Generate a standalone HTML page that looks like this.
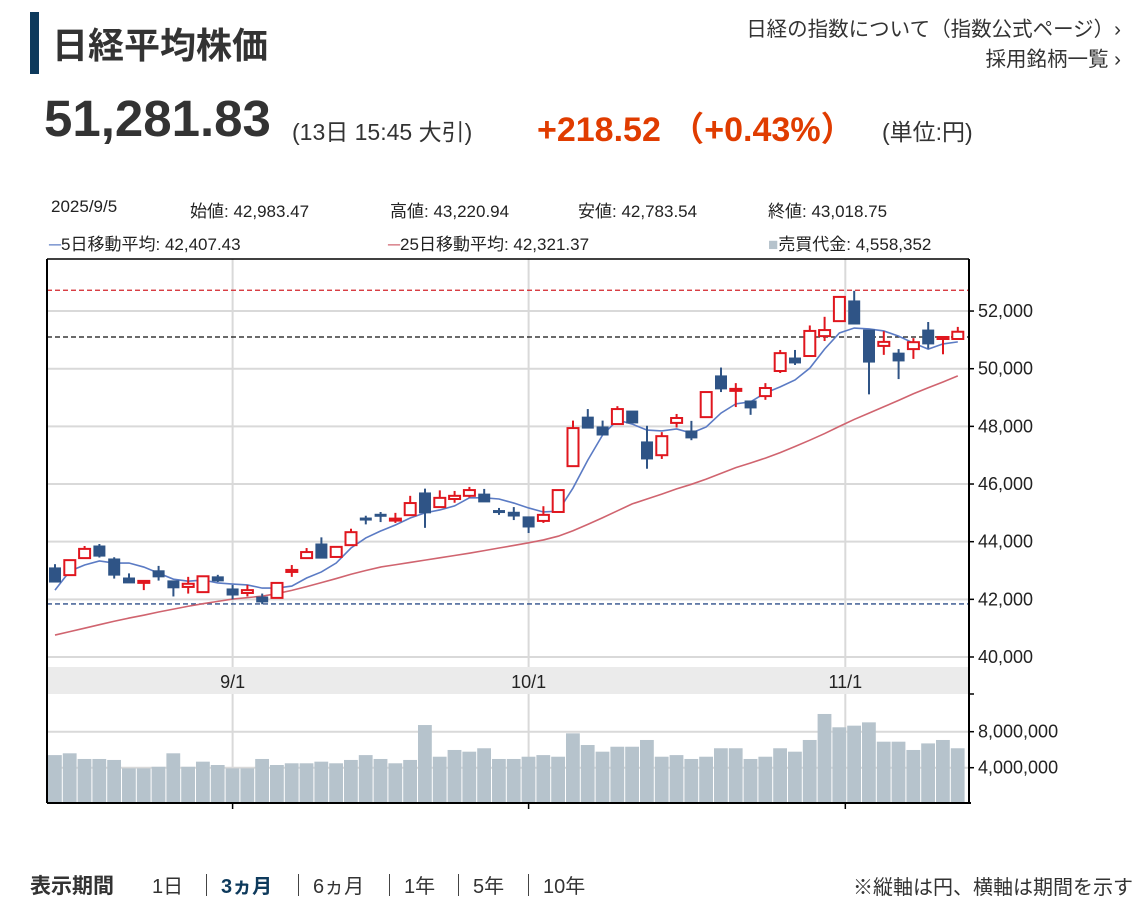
<!DOCTYPE html>
<html><head><meta charset="utf-8">
<style>
body{margin:0;background:#fff;width:1143px;height:915px;overflow:hidden;font-family:"Liberation Sans","Noto Sans CJK JP",sans-serif;color:#333;position:relative}
.abs{position:absolute;white-space:nowrap}
.sep{position:absolute;top:874px;width:1px;height:22px;background:#444}
.per{position:absolute;top:870px;font-size:20px;color:#333;white-space:nowrap}
</style></head><body>
<div class="abs" style="left:30px;top:12px;width:9px;height:62px;background:#0e3a5c"></div>
<div class="abs" style="left:52px;top:17px;font-size:36px;font-weight:bold;color:#333">日経平均株価</div>
<div class="abs" style="right:22px;top:12px;font-size:20.5px;color:#333">日経の指数について（指数公式ページ）›</div>
<div class="abs" style="right:22px;top:42px;font-size:20.5px;color:#333">採用銘柄一覧 ›</div>
<div class="abs" style="left:44px;top:89px;font-size:51px;font-weight:bold;color:#333">51,281.83</div>
<div class="abs" style="left:292px;top:113px;font-size:23px;color:#333">(13日 15:45 大引)</div>
<div class="abs" style="left:537px;top:102px;font-size:34px;font-weight:bold;color:#e03c00">+218.52 （+0.43%）</div>
<div class="abs" style="left:882px;top:113px;font-size:23px;color:#333">(単位:円)</div>

<div class="abs" style="left:51px;top:197px;font-size:17px;color:#222">2025/9/5</div>
<div class="abs" style="left:190px;top:197px;font-size:17px;color:#222">始値: 42,983.47</div>
<div class="abs" style="left:390px;top:197px;font-size:17px;color:#222">高値: 43,220.94</div>
<div class="abs" style="left:578px;top:197px;font-size:17px;color:#222">安値: 42,783.54</div>
<div class="abs" style="left:768px;top:197px;font-size:17px;color:#222">終値: 43,018.75</div>
<div class="abs" style="left:49px;top:230px;font-size:17px;color:#222"><span style="color:#5b7bc4">─</span>5日移動平均: 42,407.43</div>
<div class="abs" style="left:388px;top:230px;font-size:17px;color:#222"><span style="color:#d0646f">─</span>25日移動平均: 42,321.37</div>
<div class="abs" style="left:768px;top:230px;font-size:17px;color:#222"><span style="color:#b6c3cc">■</span>売買代金: 4,558,352</div>

<svg id="chart" class="abs" style="left:0;top:0" width="1143" height="915"></svg>

<div class="abs" style="left:30px;top:870px;font-size:21px;font-weight:bold;color:#333">表示期間</div>
<span class="per" style="left:152px">1日</span>
<div class="sep" style="left:206px"></div>
<span class="per" style="left:221px;font-weight:bold;color:#0e3a5c">3ヵ月</span>
<div class="sep" style="left:298px"></div>
<span class="per" style="left:313px">6ヵ月</span>
<div class="sep" style="left:389px"></div>
<span class="per" style="left:404px">1年</span>
<div class="sep" style="left:458px"></div>
<span class="per" style="left:473px">5年</span>
<div class="sep" style="left:528px"></div>
<span class="per" style="left:543px">10年</span>
<div class="abs" style="right:10px;top:871px;font-size:20px;color:#333">※縦軸は円、横軸は期間を示す</div>

<script>
const opens=[43090,42840,43430,43850,43400,42740,42620,42990,42640,42430,42250,42780,42360,42220,42080,42050,42950,43430,43920,43470,43880,44820,44950,44770,44920,45690,45200,45480,45590,45650,45080,45020,44860,44720,45030,46620,48320,47980,48080,48530,47460,47000,48120,47840,48320,49750,49260,48880,49050,49920,50370,50440,51130,51650,52350,51340,50790,50540,50680,51340,51030,51030];
const highs=[43220,43360,43850,43920,43460,42900,42650,43160,42640,42780,42800,42850,42500,42500,42200,42570,43190,43780,44150,43820,44450,44900,45030,45000,45590,45840,45780,45760,45900,45830,45170,45200,44860,45230,45790,48200,48600,48200,48700,48530,48020,47800,48430,48190,49190,50040,49500,48880,49500,50650,50650,51500,51800,52490,52700,51340,51300,50680,51060,51620,51130,51450];
const lows=[42600,42840,43430,43450,42720,42570,42320,42650,42100,42200,42250,42600,42000,42100,41830,42050,42780,43400,43430,43470,43880,44600,44680,44650,44920,44480,45200,45350,45530,45380,44930,44750,44300,44650,45030,46620,47940,47700,48080,48120,46530,46870,47960,47520,48320,49190,48670,48400,48920,49850,50130,50440,50960,51650,51550,49110,50480,49640,50340,50700,50500,51030];
const closes=[42600,43360,43750,43500,42840,42570,42640,42780,42400,42540,42800,42640,42150,42320,41910,42570,43020,43640,43430,43820,44330,44750,44930,44800,45340,45000,45520,45590,45790,45380,45030,44890,44510,44930,45790,47940,47940,47700,48600,48120,46870,47660,48290,47600,49190,49300,49300,48640,49330,50540,50200,51310,51340,52490,51550,50230,50930,50270,50920,50860,51100,51282];
const ma5=[42320,42980,43190,43330,43260,43260,43120,42910,42700,42630,42670,42570,42530,42500,42390,42390,42460,42740,42950,43260,43780,44130,44370,44580,44820,45000,45100,45240,45520,45520,45480,45340,45170,45030,45060,45860,46830,47700,48220,48080,47870,47840,47910,47770,47980,48460,48780,48850,49160,49370,49610,50020,50680,51240,51410,51380,51310,51130,50890,50680,50860,50930];
const ma25=[40760,40880,41000,41120,41240,41350,41450,41560,41660,41760,41850,41930,42010,42060,42110,42200,42310,42440,42580,42720,42870,43000,43120,43200,43280,43360,43440,43520,43600,43690,43780,43870,43960,44060,44190,44380,44600,44830,45070,45310,45480,45650,45830,45990,46170,46370,46570,46730,46900,47090,47300,47520,47750,48000,48240,48460,48680,48900,49130,49340,49540,49750];
const volumes=[5.4,5.6,4.97,4.97,4.86,3.93,3.93,4.1,5.6,4.1,4.67,4.3,3.93,3.93,4.97,4.3,4.49,4.49,4.67,4.49,4.86,5.4,4.97,4.49,4.86,8.74,5.22,5.97,5.78,6.16,4.97,4.97,5.22,5.4,5.22,7.82,6.52,5.78,6.33,6.33,7.08,5.22,5.4,4.97,5.22,6.16,6.16,4.97,5.22,6.16,5.78,7.08,9.97,8.49,8.67,9.04,6.89,6.89,5.97,6.7,7.08,6.16];
const priceTicks=[40000,42000,44000,46000,48000,50000,52000];
const volTicks=[4000000,8000000];
const dateLabels=["9/1","10/1","11/1"];
const dateIdx=[12,32,53.4];
const refLines=[52720,51100,41840];

const svg=document.getElementById('chart');
const NS='http://www.w3.org/2000/svg';
function mk(t,a,name){const e=document.createElementNS(NS,t);for(const k in a)e.setAttribute(k,a[k]);


svg.appendChild(e);return e;}
const L=47,R=969,T=259,B=803;
const xs=i=>55+i*14.8;
const yp=v=>657-(v-40000)*0.02883;
const yv=v=>803.7-v*9;
mk('rect',{x:L,y:667,width:R-L,height:27,fill:'#ebebeb'},'date-band');
priceTicks.forEach(t=>mk('line',{x1:L,x2:R,y1:yp(t),y2:yp(t),stroke:'#d9d9d9','stroke-width':2},'price-gridline'));
volTicks.forEach(t=>mk('line',{x1:L,x2:R,y1:yv(t/1e6),y2:yv(t/1e6),stroke:'#d9d9d9','stroke-width':2},'volume-gridline'));
dateIdx.forEach(d=>{mk('line',{x1:xs(d),x2:xs(d),y1:T,y2:667,stroke:'#d9d9d9','stroke-width':2},'date-gridline');
mk('line',{x1:xs(d),x2:xs(d),y1:694,y2:B,stroke:'#d9d9d9','stroke-width':2},'date-gridline');
mk('line',{x1:xs(d),x2:xs(d),y1:B,y2:B+6,stroke:'#000','stroke-width':1.5},'date-tick');});
dateLabels.forEach((s,k)=>{const t=mk('text',{x:xs(dateIdx[k]),y:688,'text-anchor':'middle','font-size':18,fill:'#222','font-family':'Liberation Sans, sans-serif'},'date-label');t.textContent=s;});
volumes.forEach((v,i)=>mk('rect',{x:xs(i)-7,y:yv(v),width:13.8,height:B-yv(v),fill:'#b6c3cc'},'volume-bar'));
const refCol=['#d3232a','#111','#2e4f8a'];
refLines.forEach((v,k)=>mk('line',{x1:L,x2:R,y1:yp(v),y2:yp(v),stroke:refCol[k],'stroke-width':1.3,'stroke-dasharray':'5,3'},'reference-line'));
function path(arr,col,name){mk('polyline',{points:arr.map((v,i)=>xs(i)+','+yp(v)).join(' '),fill:'none',stroke:col,'stroke-width':1.6},name);}
path(ma25,'#d0646f','ma25-line');path(ma5,'#5b7bc4','ma5-line');
closes.forEach((c,i)=>{const o=opens[i],up=c>=o,col=up?'#e0161e':'#2f5486',x=xs(i);
mk('line',{x1:x,x2:x,y1:yp(highs[i]),y2:yp(lows[i]),stroke:col,'stroke-width':2},'candle-wick');
const top=yp(Math.max(o,c)),h=Math.max(2,Math.abs(yp(o)-yp(c)));
mk('rect',{x:x-5.5,y:top,width:11,height:h,fill:up?'#fff':col,stroke:col,'stroke-width':up?2:1},'candle-body');});
mk('line',{x1:L,x2:L,y1:T,y2:B,stroke:'#000','stroke-width':2},'left-border');
mk('line',{x1:R,x2:R,y1:T,y2:B,stroke:'#000','stroke-width':2},'right-axis');
mk('line',{x1:L,x2:R,y1:T,y2:T,stroke:'#000','stroke-width':1.5},'top-border');
mk('line',{x1:L,x2:R+2,y1:B,y2:B,stroke:'#000','stroke-width':2},'bottom-border');
priceTicks.forEach(t=>{mk('line',{x1:R,x2:R+5,y1:yp(t),y2:yp(t),stroke:'#000','stroke-width':1.5},'price-tick');
const e=mk('text',{x:978,y:yp(t)+6,'font-size':18,fill:'#222','font-family':'Liberation Sans, sans-serif'},'price-tick-label');e.textContent=t.toLocaleString('en-US');});
mk('line',{x1:R,x2:R+5,y1:694,y2:694,stroke:'#000','stroke-width':1.5},'pane-tick');
volTicks.forEach(t=>{mk('line',{x1:R,x2:R+5,y1:yv(t/1e6),y2:yv(t/1e6),stroke:'#000','stroke-width':1.5},'volume-tick');
const e=mk('text',{x:978,y:yv(t/1e6)+6,'font-size':18,fill:'#222','font-family':'Liberation Sans, sans-serif'},'volume-tick-label');e.textContent=t.toLocaleString('en-US');});
</script>
</body></html>
